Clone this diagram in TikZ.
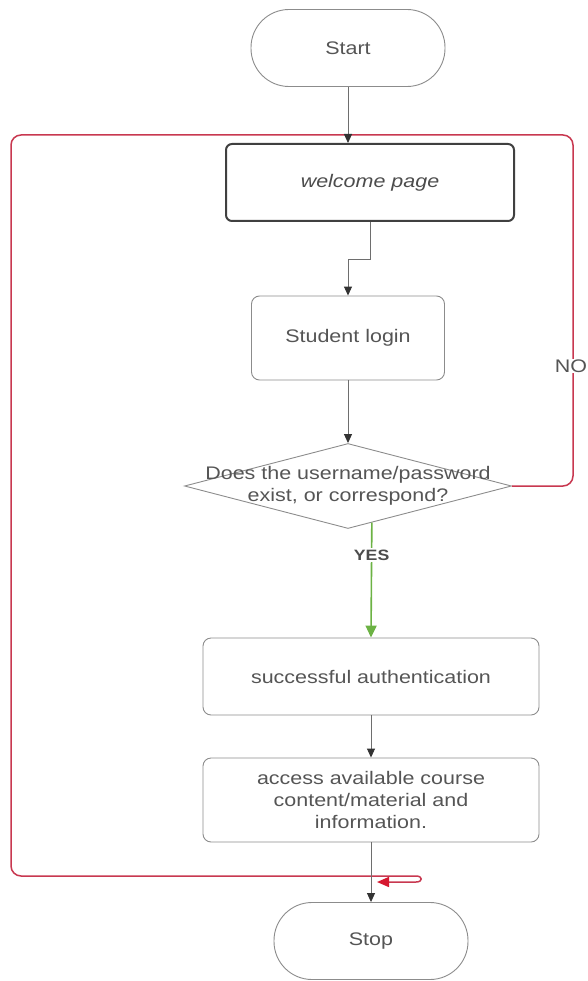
\documentclass[tikz,border=0pt]{standalone}
\usepackage{fontspec}
\setmainfont{Liberation Sans}[FakeStretch=1.18]
\usepackage{xcolor}
\usepackage{tikz}
\usetikzlibrary{shapes.geometric,arrows.meta,positioning,calc}
\definecolor{loopred}{RGB}{200,56,80}
\definecolor{tipred}{RGB}{214,24,48}
\definecolor{yesgreen}{RGB}{108,178,68}
\definecolor{boxgray}{RGB}{140,140,140}
\definecolor{txtgray}{RGB}{85,85,85}
\definecolor{linegray}{RGB}{110,110,110}

\begin{document}
\begin{tikzpicture}[x=1pt,y=-1pt,
  every node/.style={font=\fontsize{18.2}{21.8}\selectfont,text=txtgray,inner sep=0pt},
  terminal/.style={draw=boxgray,line width=0.9pt,rounded corners=38pt,minimum width=194pt,minimum height=77pt},
  box/.style={draw=boxgray,line width=0.9pt,rounded corners=8pt,minimum width=336pt,minimum height=77pt,align=center},
  decbox/.style={draw=boxgray,line width=0.9pt,diamond,minimum width=327pt,minimum height=85pt},
  arr/.style={draw=linegray,line width=0.9pt,-{Triangle[length=9pt,width=8pt,color=black!80]}},
  noline/.style={draw=loopred,line width=1.5pt,-{Triangle[length=12pt,width=10pt,color=tipred]}},
  yesarr/.style={draw=yesgreen,line width=1.6pt,-{Triangle[length=12pt,width=11pt]}}]
  \useasboundingbox (0,0) rectangle (588,981);
  % nodes
  \node[terminal] (start) at (348,48) {Start};
  \node[box,draw=black!75,line width=2pt,rounded corners=6pt,minimum width=288pt,font=\fontsize{18.2}{21.8}\selectfont\itshape,text=black!70] (welcome) at (370,182.5) {welcome page};
  \node[box,minimum width=193pt,minimum height=84pt] (login) at (348,338) {Student login};
  \node[decbox] (dec) at (348,486) {};
  \node[align=center] (dectext) at (dec) {Does the username/password\\exist, or correspond?};
  \node[box] (auth) at (371,676.5) {successful authentication};
  \node[box,minimum height=84pt] (access) at (371,800) {access available course\\content/material and\\information.};
  \node[terminal] (stop) at (371,941) {Stop};
  % NO: back round the page to the bottom
  \coordinate (loopend) at (377,882);
  \draw[noline,rounded corners=10pt] (dec.east) -- (573,486) -- (573,135) -- (11,135) -- (11,876) [sharp corners] -- (416,876) .. controls (423,876) and (423,882) .. (416,882) -- (loopend);
  \node[fill=white,inner sep=1pt] (no) at (571,366) {NO};
  % main flow
  \draw[arr] (start.south) -- (start.south |- welcome.north);
  \draw[arr] (welcome.south) -- ++(0,37) -| (login.north);
  \draw[arr] (login.south) -- (dec.north);
  \draw[yesarr] (dec.-57.8) -- (auth.north) node[pos=0.28,fill=white,inner sep=2pt,font=\fontsize{15}{18}\selectfont\bfseries,text=black!70] (yes) {YES};
  \draw[arr] (auth.south) -- (access.north);
  \draw[arr] (access.south) -- (stop.north);
\end{tikzpicture}
\end{document}
